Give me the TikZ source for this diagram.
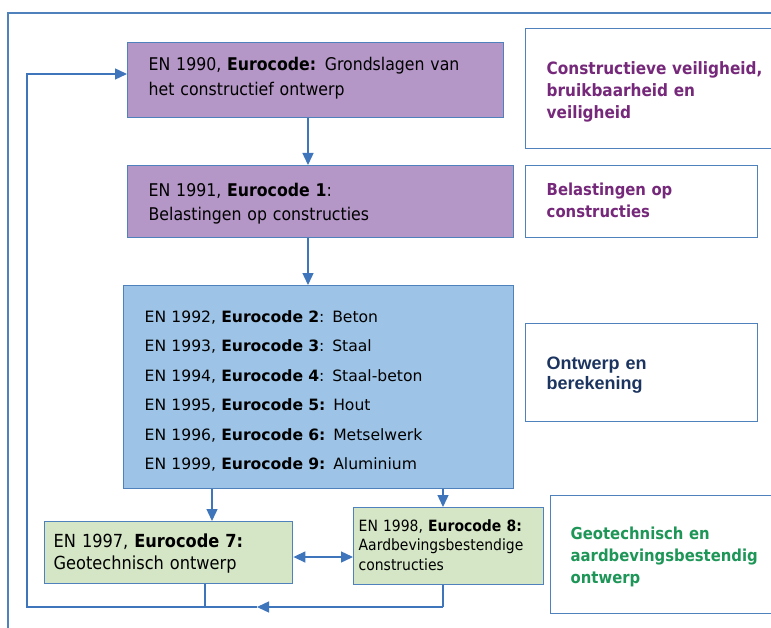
\documentclass[tikz,border=0pt]{standalone}
\usepackage{fontspec}
\setmainfont{DejaVu Sans}
\newfontfamily\condfont{DejaVu Sans Condensed}
\newfontfamily\arialfont{Liberation Sans}
\usetikzlibrary{arrows.meta}
\definecolor{bordercol}{RGB}{79,129,189}
\definecolor{arrowcol}{RGB}{62,117,187}
\definecolor{purplefill}{RGB}{181,151,199}
\definecolor{bluefill}{RGB}{157,196,231}
\definecolor{greenfill}{RGB}{213,230,198}
\definecolor{purpletext}{RGB}{118,40,122}
\definecolor{greentext}{RGB}{30,150,88}
\definecolor{navytext}{RGB}{28,52,96}
% text block, lowered by #1 without changing its size
\newcommand{\linesbox}[2]{\raisebox{-#1}[\height][\depth]{\begin{tabular}{@{}l@{}}#2\end{tabular}}}
\tikzset{
  box/.style={draw=bordercol, line width=1.4bp, anchor=north west, align=left, inner ysep=0pt, text=black},
  labelbox/.style={box, fill=white},
  conn/.style={draw=arrowcol, line width=1.4bp},
  tip/.style={-{Triangle[length=12bp,width=11bp]}},
  dtip/.style={{Triangle[length=12bp,width=11bp]}-{Triangle[length=12bp,width=11bp]}},
}
\begin{document}
\begin{tikzpicture}[x=1bp,y=-1bp]
\useasboundingbox (0,0) rectangle (771,628);
\fill[white] (0,0) rectangle (771,628);
% outer frame
\draw[bordercol, line width=1.4bp] (8,13) rectangle (820,680);

% main boxes
\node[box, fill=purplefill, minimum width=376bp, minimum height=75bp, text width=334bp, inner xsep=21bp,
  font=\condfont\fontsize{17.5bp}{25bp}\selectfont] (b1) at (127,42)
  {\linesbox{-2.5bp}{EN 1990, \textbf{Eurocode:} Grondslagen van\\het constructief ontwerp}};
\node[box, fill=purplefill, minimum width=386bp, minimum height=72bp, text width=344bp, inner xsep=21bp,
  font=\condfont\fontsize{17.5bp}{24bp}\selectfont] (b2) at (127,165)
  {\linesbox{1.5bp}{EN 1991, \textbf{Eurocode 1}:\\Belastingen op constructies}};
\node[box, fill=bluefill, minimum width=390bp, minimum height=203bp, text width=348bp, inner xsep=21bp,
  font=\fontsize{15.6bp}{29.5bp}\selectfont] (b3) at (123,285)
  {\linesbox{3bp}{EN 1992, \textbf{Eurocode 2}: Beton\\
   EN 1993, \textbf{Eurocode 3}: Staal\\
   EN 1994, \textbf{Eurocode 4}: Staal-beton\\
   EN 1995, \textbf{Eurocode 5:} Hout\\
   EN 1996, \textbf{Eurocode 6:} Metselwerk\\
   EN 1999, \textbf{Eurocode 9:} Aluminium}};
\node[box, fill=greenfill, minimum width=248bp, minimum height=62bp, text width=230bp, inner xsep=9bp,
  font=\condfont\fontsize{18bp}{22bp}\selectfont] (b4) at (44,521)
  {\linesbox{1.5bp}{EN 1997, \textbf{Eurocode 7:}\\Geotechnisch ontwerp}};
\node[box, fill=greenfill, minimum width=190bp, minimum height=77bp, text width=180bp, inner xsep=5bp,
  font=\condfont\fontsize{15.5bp}{19.5bp}\selectfont] (b5) at (353,507)
  {\linesbox{0.5bp}{EN 1998, \textbf{Eurocode 8:}\\Aardbevingsbestendige\\constructies}};

% label boxes
\node[labelbox, minimum width=243bp, minimum height=120bp, text width=225bp, inner xsep=21bp, text=purpletext,
  font=\condfont\bfseries\fontsize{17bp}{22bp}\selectfont] (l1) at (525,28)
  {\linesbox{3bp}{Constructieve veiligheid,\\bruikbaarheid en\\veiligheid}};
\node[labelbox, minimum width=212bp, minimum height=72bp, text width=190bp, inner xsep=21bp, text=purpletext,
  font=\condfont\bfseries\fontsize{16.5bp}{22bp}\selectfont] (l2) at (525,165)
  {\linesbox{0bp}{Belastingen op\\constructies}};
\node[labelbox, minimum width=213bp, minimum height=98bp, text width=190bp, inner xsep=21bp, text=navytext,
  font=\arialfont\bfseries\fontsize{18bp}{20.5bp}\selectfont] (l3) at (525,323)
  {\linesbox{2.5bp}{Ontwerp en\\berekening}};
\node[labelbox, minimum width=260bp, minimum height=118bp, text width=220bp, inner xsep=20bp, text=greentext,
  font=\condfont\bfseries\fontsize{16.5bp}{22bp}\selectfont] (l4) at (550,495)
  {\linesbox{2bp}{Geotechnisch en\\aardbevingsbestendig\\ontwerp}};

% connectors
\draw[conn, tip] (b1.south -| 308,0) -- (b2.north -| 308,0);
\draw[conn, tip] (b2.south -| 308,0) -- (b3.north -| 308,0);
\draw[conn, tip] (b3.south -| 212,0) -- (b4.north -| 212,0);
\draw[conn, tip] (b3.south -| 443,0) -- (b5.north -| 443,0);
\draw[conn, dtip] (b4.east |- 0,557) -- (b5.west |- 0,557);

\coordinate (c4) at (205,607);
\coordinate (c5) at (443,607);
\coordinate (cm) at (257,607);
\coordinate (cl) at (27,607);
\coordinate (ct) at (27,74);
\draw[conn] (b4.south -| c4) -- (c4);
\draw[conn] (b5.south -| c5) -- (c5);
\draw[conn, tip] (c5) -- (cm);
\draw[conn, tip] (cm) -- (cl) -- (ct) -- (b1.west |- ct);
\end{tikzpicture}
\end{document}
